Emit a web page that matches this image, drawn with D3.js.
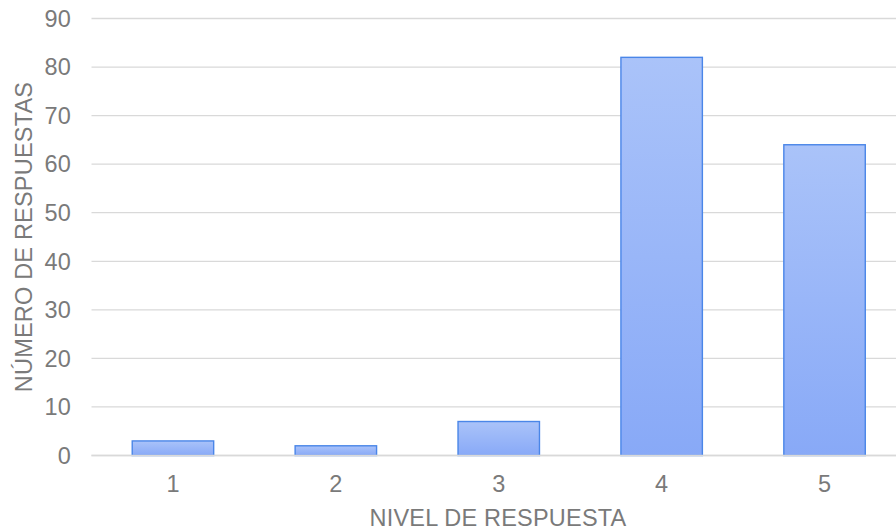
<!DOCTYPE html>
<html>
<head>
<meta charset="utf-8">
<script src="https://cdn.jsdelivr.net/npm/d3@7"></script>
<style>
  html, body { margin: 0; padding: 0; background: #ffffff; }
  svg { display: block; font-family: "Liberation Sans", Arial, sans-serif; }
</style>
</head>
<body>
<svg id="chart" width="896" height="531"></svg>
<script>
// Response counts per answer level
const categories = ["1", "2", "3", "4", "5"];
const values = [3, 2, 7, 82, 64];
const yTicks = [0, 10, 20, 30, 40, 50, 60, 70, 80, 90];
const xTitle = "NIVEL DE RESPUESTA";
const yTitle = "NÚMERO DE RESPUESTAS";

const svg = d3.select("#chart");
const margin = { left: 91.5, right: -10, top: 18.5, bottom: 75.5 };
const W = 896, H = 531;
const textColor = "#7a7a7a";
const fontSize = 23.5;
const spacing = "0.2px";

const x = d3.scaleBand()
  .domain(categories)
  .range([margin.left, W - margin.right])
  .paddingInner(0.5)
  .paddingOuter(0.25);

const y = d3.scaleLinear()
  .domain([0, 90])
  .range([H - margin.bottom, margin.top]);

// Vertical gradient fill for the bars
const defs = svg.append("defs");
const grad = defs.append("linearGradient")
  .attr("id", "barFill")
  .attr("x1", 0).attr("y1", 0).attr("x2", 0).attr("y2", 1);
grad.append("stop").attr("offset", "0%").attr("stop-color", "#aac3f9");
grad.append("stop").attr("offset", "100%").attr("stop-color", "#88a9f7");

// Horizontal gridlines
svg.append("g")
  .selectAll("line")
  .data(yTicks)
  .join("line")
  .attr("x1", margin.left)
  .attr("x2", W)
  .attr("y1", d => y(d))
  .attr("y2", d => y(d))
  .attr("stroke", "#d9d9d9")
  .attr("stroke-width", 1.3);

// Bars
svg.append("g")
  .selectAll("rect")
  .data(values)
  .join("rect")
  .attr("x", (d, i) => x(categories[i]))
  .attr("width", x.bandwidth())
  .attr("y", d => y(d))
  .attr("height", d => y(0) - y(d))
  .attr("fill", "url(#barFill)")
  .attr("stroke", "#4a86e8")
  .attr("stroke-width", 1.4);

// Baseline redrawn over the bars
svg.append("line")
  .attr("x1", margin.left).attr("x2", W)
  .attr("y1", y(0)).attr("y2", y(0))
  .attr("stroke", "#d9d9d9")
  .attr("stroke-width", 1.3);

// Y tick labels
svg.append("g")
  .selectAll("text")
  .data(yTicks)
  .join("text")
  .attr("x", 71)
  .attr("y", d => y(d))
  .attr("dy", "0.35em")
  .attr("text-anchor", "end")
  .attr("font-size", fontSize)
  .attr("letter-spacing", spacing)
  .attr("fill", textColor)
  .text(d => d);

// X tick labels
svg.append("g")
  .selectAll("text")
  .data(categories)
  .join("text")
  .attr("x", d => x(d) + x.bandwidth() / 2)
  .attr("y", 492)
  .attr("text-anchor", "middle")
  .attr("font-size", fontSize)
  .attr("fill", textColor)
  .text(d => d);

// Axis titles
svg.append("text")
  .attr("x", 498)
  .attr("y", 526)
  .attr("text-anchor", "middle")
  .attr("font-size", fontSize)
  .attr("letter-spacing", spacing)
  .attr("fill", textColor)
  .text(xTitle);

svg.append("text")
  .attr("transform", "translate(32,237) rotate(-90)")
  .attr("text-anchor", "middle")
  .attr("font-size", fontSize)
  .attr("letter-spacing", spacing)
  .attr("fill", textColor)
  .text(yTitle);
</script>
</body>
</html>
